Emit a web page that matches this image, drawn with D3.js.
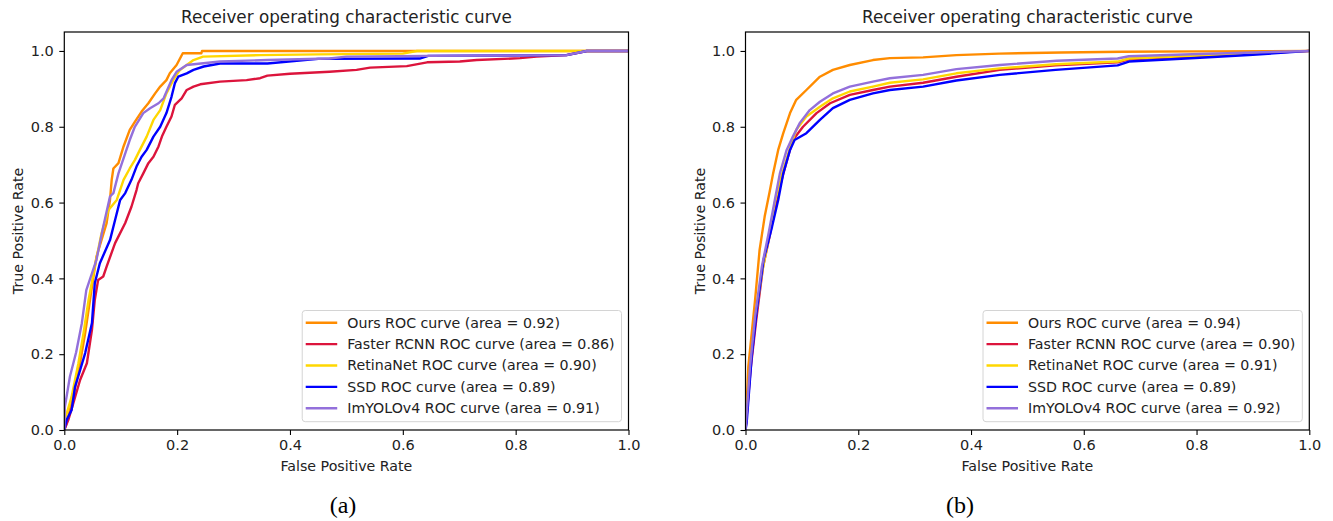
<!DOCTYPE html>
<html>
<head>
<meta charset="utf-8">
<script src="https://cdn.jsdelivr.net/npm/d3@7"></script>
<style>
  html, body { margin: 0; padding: 0; background: #fff; }
  svg { display: block; }
  text { font-family: "DejaVu Sans", sans-serif; fill: #222; }
</style>
</head>
<body>
<svg id="fig" width="1333" height="521"></svg>
<script>
// ---- data: ROC points [false positive rate, true positive rate] ----
const models = ["Ours", "Faster RCNN", "RetinaNet", "SSD", "ImYOLOv4"];
const colors = ["#ff8c00", "#dc143c", "#ffd700", "#0000ff", "#9370db"];
const aucA = [0.92, 0.86, 0.90, 0.89, 0.91];
const aucB = [0.94, 0.90, 0.91, 0.89, 0.92];
const ticks = [0.0, 0.2, 0.4, 0.6, 0.8, 1.0];
const panelTags = ["(a)", "(b)"];

// panel (a)
const oursA = [[0,0],[0.004,0.018],[0.016,0.088],[0.028,0.177],[0.037,0.256],[0.049,0.378],[0.057,0.457],[0.075,0.546],[0.081,0.607],[0.084,0.660],[0.087,0.690],[0.096,0.704],[0.105,0.748],[0.116,0.792],[0.125,0.813],[0.137,0.840],[0.149,0.862],[0.161,0.888],[0.170,0.906],[0.181,0.923],[0.187,0.941],[0.199,0.963],[0.210,0.994],[0.243,0.994],[0.244,1.0],[1,1]];
const fasterA = [[0,0],[0.007,0.026],[0.016,0.071],[0.028,0.132],[0.040,0.176],[0.049,0.264],[0.054,0.343],[0.060,0.396],[0.069,0.405],[0.075,0.431],[0.090,0.493],[0.108,0.546],[0.119,0.589],[0.128,0.633],[0.131,0.651],[0.140,0.677],[0.149,0.704],[0.158,0.721],[0.167,0.748],[0.173,0.774],[0.181,0.800],[0.190,0.827],[0.196,0.858],[0.208,0.875],[0.217,0.897],[0.229,0.906],[0.241,0.912],[0.276,0.919],[0.323,0.923],[0.347,0.928],[0.360,0.935],[0.400,0.940],[0.470,0.945],[0.518,0.950],[0.542,0.956],[0.607,0.960],[0.643,0.970],[0.701,0.972],[0.731,0.976],[0.808,0.981],[0.837,0.985],[0.890,0.989],[0.926,1.0],[1,1]];
const retinaA = [[0,0],[0.001,0.027],[0.013,0.088],[0.025,0.176],[0.034,0.255],[0.043,0.343],[0.054,0.431],[0.066,0.519],[0.078,0.580],[0.093,0.607],[0.105,0.660],[0.116,0.690],[0.125,0.712],[0.134,0.739],[0.146,0.774],[0.158,0.818],[0.170,0.844],[0.181,0.888],[0.193,0.923],[0.205,0.950],[0.217,0.963],[0.229,0.976],[0.246,0.985],[0.347,0.989],[0.450,0.991],[0.600,0.993],[0.625,1.0],[1,1]];
const ssdA = [[0,0],[0.004,0.026],[0.013,0.053],[0.019,0.114],[0.028,0.158],[0.037,0.203],[0.049,0.282],[0.054,0.387],[0.063,0.440],[0.081,0.501],[0.090,0.554],[0.099,0.607],[0.108,0.625],[0.119,0.660],[0.128,0.695],[0.137,0.721],[0.146,0.739],[0.158,0.774],[0.170,0.800],[0.181,0.836],[0.190,0.879],[0.196,0.915],[0.202,0.932],[0.217,0.941],[0.229,0.950],[0.247,0.959],[0.276,0.967],[0.360,0.967],[0.450,0.979],[0.630,0.980],[0.645,0.987],[0.890,0.989],[0.926,1.0],[1,1]];
const imyoloA = [[0,0],[0.001,0.061],[0.010,0.141],[0.021,0.205],[0.031,0.281],[0.039,0.369],[0.057,0.449],[0.069,0.536],[0.081,0.616],[0.087,0.625],[0.096,0.677],[0.108,0.730],[0.116,0.765],[0.125,0.800],[0.140,0.836],[0.152,0.849],[0.167,0.862],[0.176,0.875],[0.190,0.923],[0.199,0.945],[0.217,0.963],[0.276,0.972],[0.360,0.976],[0.470,0.980],[0.500,0.985],[0.640,0.987],[0.890,0.989],[0.926,1.0],[1,1]];

// panel (b)
const oursB = [[0,0],[0.005,0.167],[0.011,0.255],[0.017,0.343],[0.025,0.475],[0.034,0.563],[0.043,0.630],[0.049,0.677],[0.058,0.739],[0.067,0.783],[0.079,0.836],[0.090,0.871],[0.108,0.897],[0.132,0.932],[0.155,0.950],[0.185,0.963],[0.226,0.976],[0.256,0.981],[0.315,0.983],[0.374,0.989],[0.450,0.993],[0.560,0.996],[0.670,0.998],[0.800,0.999],[1,1]];
const fasterB = [[0,0],[0.009,0.160],[0.019,0.290],[0.031,0.430],[0.044,0.520],[0.054,0.600],[0.066,0.670],[0.077,0.730],[0.084,0.765],[0.102,0.800],[0.126,0.836],[0.150,0.862],[0.185,0.884],[0.226,0.897],[0.256,0.906],[0.315,0.916],[0.374,0.932],[0.451,0.950],[0.550,0.962],[0.660,0.970],[0.680,0.978],[0.806,0.986],[1,1]];
const retinaB = [[0,0],[0.008,0.160],[0.017,0.290],[0.030,0.420],[0.042,0.510],[0.052,0.600],[0.064,0.670],[0.076,0.730],[0.090,0.792],[0.108,0.827],[0.132,0.853],[0.155,0.875],[0.185,0.893],[0.226,0.906],[0.256,0.916],[0.315,0.925],[0.374,0.941],[0.451,0.954],[0.550,0.965],[0.660,0.972],[0.680,0.980],[0.806,0.988],[1,1]];
const ssdB = [[0,0],[0.002,0.018],[0.011,0.193],[0.020,0.317],[0.032,0.449],[0.047,0.536],[0.058,0.607],[0.067,0.677],[0.079,0.739],[0.087,0.765],[0.108,0.783],[0.132,0.818],[0.155,0.849],[0.185,0.871],[0.226,0.888],[0.256,0.897],[0.315,0.906],[0.374,0.922],[0.451,0.937],[0.550,0.950],[0.660,0.962],[0.680,0.972],[0.806,0.982],[0.900,0.990],[1,1]];
const imyoloB = [[0,0],[0.008,0.167],[0.017,0.299],[0.029,0.431],[0.041,0.519],[0.052,0.607],[0.061,0.677],[0.073,0.739],[0.084,0.774],[0.096,0.809],[0.114,0.844],[0.132,0.866],[0.155,0.888],[0.185,0.906],[0.226,0.919],[0.256,0.928],[0.315,0.937],[0.374,0.952],[0.451,0.963],[0.552,0.974],[0.660,0.980],[0.680,0.986],[0.806,0.992],[1,1]];

const panels = [
  { left: 64.3, right: 628.5, curves: [oursA, fasterA, retinaA, ssdA, imyoloA], auc: aucA, tag: panelTags[0], tagX: 343 },
  { left: 745.5, right: 1309.3, curves: [oursB, fasterB, retinaB, ssdB, imyoloB], auc: aucB, tag: panelTags[1], tagX: 960 }
];

const TOP = 32, BOTTOM = 430;
const TICK_FS = 14.5;
const LABEL_FS = 14.2;
const LEGEND_FS = 14.2;
const TITLE_FS = 16.8;
const fmt = d3.format(".1f");
const fmt2 = d3.format(".2f");

const svg = d3.select("#fig");
svg.append("rect").attr("width", 1333).attr("height", 521).attr("fill", "#fff");

panels.forEach(p => {
  const x = d3.scaleLinear().domain([0, 1]).range([p.left, p.right]);
  const y = d3.scaleLinear().domain([0, 1.05]).range([BOTTOM, TOP]);
  const g = svg.append("g");
  const cx = (p.left + p.right) / 2;

  // clip curves to the axes box
  const clipId = "clip" + Math.round(p.left);
  svg.append("clipPath").attr("id", clipId)
    .append("rect").attr("x", p.left).attr("y", TOP)
    .attr("width", p.right - p.left).attr("height", BOTTOM - TOP);

  // curves
  const line = d3.line().x(d => x(d[0])).y(d => y(d[1]));
  const cg = g.append("g").attr("clip-path", `url(#${clipId})`);
  p.curves.forEach((c, i) => {
    cg.append("path").datum(c)
      .attr("d", line)
      .attr("fill", "none")
      .attr("stroke", colors[i])
      .attr("stroke-width", 2.4)
      .attr("stroke-linejoin", "round")
      .attr("stroke-linecap", "square");
  });

  // axes
  const xAxis = g.append("g").attr("transform", `translate(0,${BOTTOM})`)
    .call(d3.axisBottom(x).tickValues(ticks).tickFormat(fmt).tickSize(5).tickSizeOuter(0).tickPadding(4.5));
  const yAxis = g.append("g").attr("transform", `translate(${p.left},0)`)
    .call(d3.axisLeft(y).tickValues(ticks).tickFormat(fmt).tickSize(5).tickSizeOuter(0).tickPadding(5.5));
  [xAxis, yAxis].forEach(a => {
    a.select(".domain").remove();
    a.selectAll(".tick line").attr("stroke", "#000").attr("stroke-width", 1.1);
    a.selectAll(".tick text").attr("font-family", "DejaVu Sans").attr("font-size", TICK_FS).attr("fill", "#222");
  });

  // frame
  g.append("rect").attr("x", p.left).attr("y", TOP)
    .attr("width", p.right - p.left).attr("height", BOTTOM - TOP)
    .attr("fill", "none").attr("stroke", "#000").attr("stroke-width", 1.2);

  // titles
  g.append("text").attr("x", cx).attr("y", 23).attr("text-anchor", "middle")
    .attr("font-size", TITLE_FS).text("Receiver operating characteristic curve");
  g.append("text").attr("x", cx).attr("y", 470.5).attr("text-anchor", "middle")
    .attr("font-size", LABEL_FS).text("False Positive Rate");
  g.append("text").attr("transform", `translate(${p.left - 41},${(TOP + BOTTOM) / 2}) rotate(-90)`)
    .attr("text-anchor", "middle").attr("font-size", LABEL_FS).text("True Positive Rate");

  // legend (lower right)
  const lg = g.append("g");
  const rowH = 21.4;
  const labels = models.map((m, i) => `${m} ROC curve (area = ${fmt2(p.auc[i])})`);
  const box = lg.append("rect");
  const texts = labels.map(t => lg.append("text").attr("font-size", LEGEND_FS).attr("dy", "0.35em").text(t));
  const maxW = d3.max(texts, t => t.node().getComputedTextLength());
  const padL = 3.5, handle = 31.5, gap = 10, padR = 7;
  const boxW = padL + handle + gap + maxW + padR;
  const boxH = 111.2;
  const bx = p.right - 7 - boxW, by = BOTTOM - 8.3 - boxH;
  box.attr("x", bx).attr("y", by).attr("width", boxW).attr("height", boxH)
    .attr("rx", 3).attr("fill", "#fff").attr("fill-opacity", 0.8)
    .attr("stroke", "#d4d4d4").attr("stroke-width", 1);
  texts.forEach((t, i) => {
    const ry = by + 12.2 + i * rowH;
    t.attr("x", bx + padL + handle + gap).attr("y", ry);
    lg.append("line").attr("x1", bx + padL).attr("x2", bx + padL + handle)
      .attr("y1", ry).attr("y2", ry)
      .attr("stroke", colors[i]).attr("stroke-width", 2.4);
  });

  // panel tag
  svg.append("text").attr("x", p.tagX).attr("y", 513).attr("text-anchor", "middle")
    .style("font-family", "'Liberation Serif', 'Times New Roman', serif")
    .attr("font-size", 24).style("fill", "#000").text(p.tag);
});
</script>
</body>
</html>
